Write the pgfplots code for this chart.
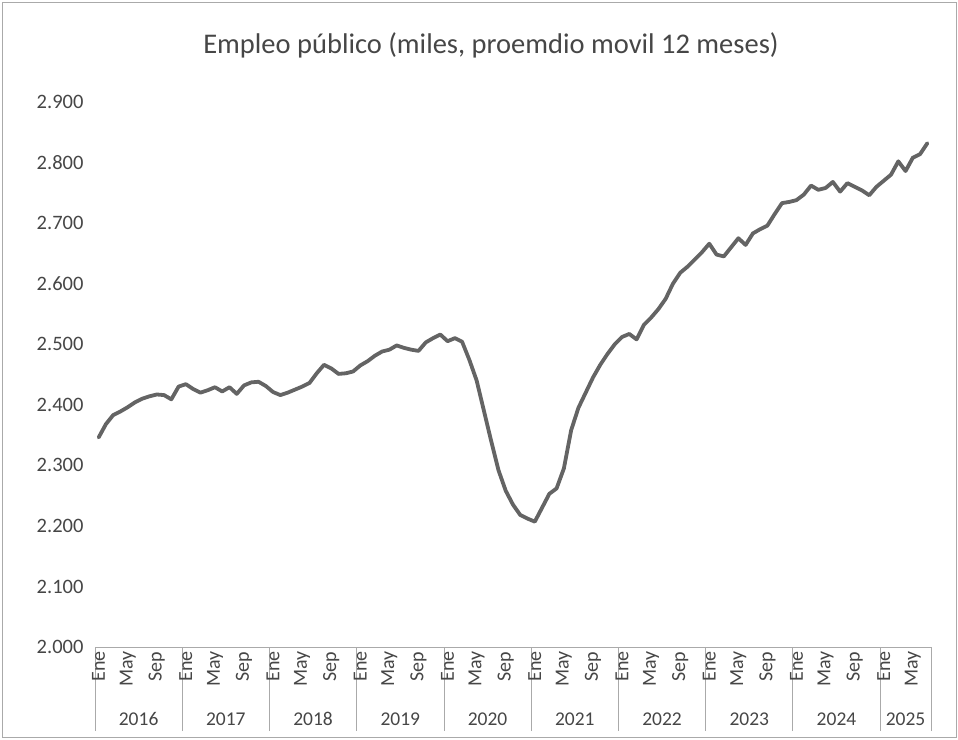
\documentclass[border=0pt]{standalone}
\usepackage{fontspec}
\setmainfont{Carlito}
\usepackage{pgfplots}
\usepackage{pgfplotstable}
\pgfplotsset{compat=1.18}
\definecolor{txt}{RGB}{70,70,70}
\definecolor{ln}{RGB}{100,100,100}
\definecolor{frm}{RGB}{170,170,170}

\pgfplotstableread{
x y
0 2346
1 2368
2 2383
3 2389
4 2396
5 2404
6 2410
7 2414
8 2417
9 2416
10 2409
11 2430
12 2434
13 2426
14 2420
15 2424
16 2429
17 2422
18 2429
19 2418
20 2432
21 2437
22 2438
23 2431
24 2421
25 2416
26 2420
27 2425
28 2430
29 2436
30 2452
31 2466
32 2460
33 2451
34 2452
35 2455
36 2465
37 2472
38 2481
39 2488
40 2491
41 2498
42 2494
43 2491
44 2489
45 2503
46 2510
47 2516
48 2505
49 2510
50 2504
51 2474
52 2440
53 2390
54 2340
55 2292
56 2258
57 2235
58 2218
59 2212
60 2207
61 2230
62 2253
63 2262
64 2295
65 2358
66 2395
67 2420
68 2445
69 2466
70 2484
71 2500
72 2512
73 2517
74 2508
75 2532
76 2544
77 2558
78 2575
79 2600
80 2618
81 2628
82 2640
83 2652
84 2666
85 2648
86 2645
87 2660
88 2675
89 2664
90 2683
91 2690
92 2696
93 2715
94 2733
95 2735
96 2738
97 2747
98 2762
99 2755
100 2758
101 2768
102 2752
103 2766
104 2760
105 2754
106 2746
107 2760
108 2770
109 2780
110 2802
111 2786
112 2808
113 2814
114 2832
}\datatable

\begin{document}
\begin{tikzpicture}[x=1pt,y=1pt]
\path[use as bounding box] (0,0) rectangle (958,739);
\draw[frm, line width=0.8pt] (2,2) rectangle (956,737);
\node[font=\fontsize{28.5}{32}\selectfont, text=txt] at (491,694) {Empleo público (miles, proemdio movil 12 meses)};
\begin{axis}[
  at={(95pt,92pt)}, anchor=south west,
  scale only axis, width=836pt, height=545pt,
  xmin=-0.5, xmax=114.5, ymin=2000, ymax=2900,
  axis x line*=bottom, axis y line*=left,
  y axis line style={draw=none},
  x axis line style={frm, line width=0.8pt},
  ytick={2000,2100,2200,2300,2400,2500,2600,2700,2800,2900},
  yticklabels={2.000,2.100,2.200,2.300,2.400,2.500,2.600,2.700,2.800,2.900},
  ytick style={draw=none},
  ytick align=inside,
  yticklabel style={font=\fontsize{20.5}{24}\selectfont, text=txt, anchor=east, xshift=-8pt},
  xtick={-0.5,11.5,23.5,35.5,47.5,59.5,71.5,83.5,95.5,107.5,114.5},
  xticklabels={},
  xtick align=outside,
  major tick length=84pt,
  xtick style={frm, line width=0.8pt},
  extra x ticks={0,4,8,12,16,20,24,28,32,36,40,44,48,52,56,60,64,68,72,76,80,84,88,92,96,100,104,108,112},
  extra x tick labels={Ene,May,Sep,Ene,May,Sep,Ene,May,Sep,Ene,May,Sep,Ene,May,Sep,Ene,May,Sep,Ene,May,Sep,Ene,May,Sep,Ene,May,Sep,Ene,May},
  extra x tick style={major tick length=0pt,
    xticklabel style={rotate=90, anchor=east, font=\fontsize{20}{24}\selectfont, text=txt, xshift=-1pt}},
  clip=false,
]
\addplot[ln, line width=3.8pt, line join=round, line cap=round] table[x=x,y=y] {\datatable};
\node[font=\fontsize{19.5}{23}\selectfont, text=txt, anchor=base] at (axis cs:5.5,2000) [yshift=-78pt] {2016};
\node[font=\fontsize{19.5}{23}\selectfont, text=txt, anchor=base] at (axis cs:17.5,2000) [yshift=-78pt] {2017};
\node[font=\fontsize{19.5}{23}\selectfont, text=txt, anchor=base] at (axis cs:29.5,2000) [yshift=-78pt] {2018};
\node[font=\fontsize{19.5}{23}\selectfont, text=txt, anchor=base] at (axis cs:41.5,2000) [yshift=-78pt] {2019};
\node[font=\fontsize{19.5}{23}\selectfont, text=txt, anchor=base] at (axis cs:53.5,2000) [yshift=-78pt] {2020};
\node[font=\fontsize{19.5}{23}\selectfont, text=txt, anchor=base] at (axis cs:65.5,2000) [yshift=-78pt] {2021};
\node[font=\fontsize{19.5}{23}\selectfont, text=txt, anchor=base] at (axis cs:77.5,2000) [yshift=-78pt] {2022};
\node[font=\fontsize{19.5}{23}\selectfont, text=txt, anchor=base] at (axis cs:89.5,2000) [yshift=-78pt] {2023};
\node[font=\fontsize{19.5}{23}\selectfont, text=txt, anchor=base] at (axis cs:101.5,2000) [yshift=-78pt] {2024};
\node[font=\fontsize{19.5}{23}\selectfont, text=txt, anchor=base] at (axis cs:111,2000) [yshift=-78pt] {2025};
\end{axis}
\end{tikzpicture}
\end{document}
